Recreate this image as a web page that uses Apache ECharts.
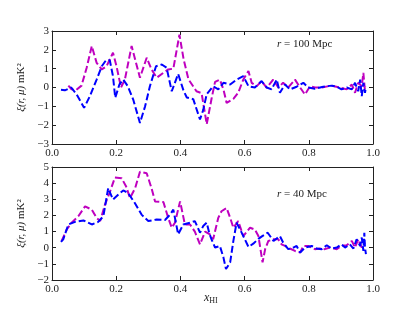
<!DOCTYPE html>
<html><head><meta charset="utf-8">
<script src="https://cdn.jsdelivr.net/npm/echarts@6/dist/echarts.min.js"></script>
<style>html,body{margin:0;padding:0;background:#fff}#c{width:415px;height:312px}</style>
</head><body><div id="c"></div>
<script>
// x ticks
var xTicks = [0.0, 0.2, 0.4, 0.6, 0.8, 1.0];
var topYTicks = [-3, -2, -1, 0, 1, 2, 3];
var botYTicks = [-2, -1, 0, 1, 2, 3, 4, 5];

// Top panel (r = 100 Mpc), blue series
var topBlueX = [0.028,0.04,0.06,0.077,0.10,0.118,0.139,0.155,0.168,0.18,0.19,0.197,0.21,0.222,0.236,0.253,0.274,0.29,0.305,0.324,0.342,0.357,0.373,0.393,0.41,0.42,0.44,0.461,0.471,0.482,0.502,0.518,0.534,0.555,0.575,0.596,0.612,0.632,0.653,0.669,0.684,0.70,0.71,0.726,0.741,0.762,0.783,0.798,0.819,0.845,0.871,0.887,0.902,0.918,0.934,0.944,0.954,0.96,0.965,0.97,0.975,0.978];
var topBlueY = [-0.12,-0.15,0.0,-0.37,-1.08,-0.46,0.42,1.13,1.44,1.45,0.6,-0.55,0.16,0.42,0.07,-0.64,-1.88,-1.0,0.07,1.13,1.22,1.05,-0.2,0.72,-0.18,-0.53,-0.62,-1.7,-1.2,-0.35,0.07,-0.1,0.25,0.16,0.42,0.6,0.07,0.0,0.34,0.0,-0.1,0.42,-0.28,0.16,-0.1,0.04,0.25,0.0,-0.07,0.04,0.1,0.04,-0.1,0.0,-0.1,0.25,-0.2,0.42,-0.46,0.25,-0.28,0.04];
// Top panel, magenta series
var topMagX = [0.051,0.061,0.075,0.092,0.108,0.124,0.139,0.155,0.17,0.19,0.201,0.215,0.227,0.248,0.259,0.274,0.295,0.31,0.326,0.347,0.362,0.378,0.397,0.41,0.425,0.45,0.466,0.482,0.497,0.508,0.523,0.534,0.544,0.565,0.58,0.596,0.612,0.622,0.638,0.653,0.669,0.689,0.705,0.72,0.736,0.757,0.773,0.788,0.804,0.819,0.84,0.871,0.897,0.918,0.934,0.944,0.954,0.965,0.97,0.975];
var topMagY = [0.1,-0.1,-0.14,0.1,1.05,2.2,1.31,0.96,1.13,1.85,1.13,0.0,0.42,2.2,1.49,0.52,1.58,0.96,0.52,0.78,0.96,1.0,2.8,1.5,0.44,-0.2,-0.3,-1.95,-0.6,0.3,0.42,-0.1,-0.82,-0.6,-0.28,0.42,0.88,0.25,0.07,0.34,-0.02,0.42,0.0,0.25,0.0,0.42,0.0,-0.37,0.07,0.0,0.0,0.1,0.0,-0.1,0.16,-0.28,0.25,0.07,0.78,-0.2];

// Bottom panel (r = 40 Mpc), blue series
var botBlueX = [0.028,0.035,0.051,0.072,0.098,0.124,0.144,0.16,0.175,0.19,0.206,0.222,0.237,0.258,0.279,0.30,0.326,0.352,0.368,0.378,0.393,0.409,0.43,0.445,0.461,0.471,0.482,0.49,0.497,0.508,0.523,0.534,0.542,0.555,0.565,0.575,0.586,0.596,0.612,0.627,0.643,0.655,0.672,0.69,0.71,0.72,0.736,0.752,0.762,0.773,0.788,0.809,0.824,0.84,0.856,0.871,0.887,0.902,0.913,0.928,0.939,0.949,0.96,0.965,0.97,0.973,0.975,0.978];
var botBlueY = [0.36,0.52,1.44,1.6,1.69,1.44,1.6,1.95,3.69,2.98,3.28,3.55,3.39,2.77,2.05,1.65,1.75,1.72,2.05,2.36,0.83,1.44,1.55,1.65,0.93,1.34,1.55,0.9,0.52,0.01,0.11,-0.6,-1.32,-0.91,0.42,1.55,1.13,0.72,0.05,0.25,0.55,0.72,0.93,0.42,0.72,0.32,-0.09,0.01,0.11,-0.3,0.01,0.11,-0.05,-0.09,0.15,-0.05,0.01,0.21,0.01,0.21,-0.05,0.52,0.11,0.63,-0.2,0.93,0.01,-0.4];
// Bottom panel, magenta series
var botMagX = [0.03,0.046,0.061,0.082,0.103,0.124,0.139,0.15,0.165,0.181,0.196,0.217,0.231,0.243,0.259,0.274,0.295,0.31,0.321,0.347,0.362,0.373,0.383,0.399,0.414,0.43,0.445,0.461,0.477,0.492,0.502,0.518,0.528,0.544,0.555,0.565,0.58,0.596,0.617,0.632,0.643,0.656,0.664,0.674,0.69,0.705,0.715,0.726,0.741,0.757,0.773,0.783,0.798,0.819,0.835,0.85,0.866,0.887,0.902,0.918,0.934,0.944,0.954,0.965,0.975];
var botMagY = [0.42,1.13,1.55,1.95,2.56,2.36,1.85,1.65,2.67,3.49,4.35,4.3,3.79,3.08,3.69,4.71,4.61,3.69,2.87,2.83,1.85,1.24,1.55,2.87,1.44,1.44,1.0,0.21,1.0,0.83,0.52,1.85,2.26,2.46,1.85,1.24,1.65,0.72,1.24,1.13,0.72,-0.91,-0.09,0.42,0.52,0.52,0.21,0.11,-0.05,-0.2,-0.3,0.11,0.11,-0.09,-0.05,-0.09,0.01,-0.09,0.11,0.15,0.42,0.01,0.52,0.01,0.32];

function pairs(xs, ys){ return xs.map(function(x,i){ return [x, ys[i]]; }); }

var FONT = '"Liberation Serif", "DejaVu Serif", serif';
var AXC = '#222';

function fmtNum(v){ var s = (Math.abs(v) < 1e-9) ? '0' : String(v); return s.replace('-', '\u2212'); }
function fmtX(v){ return v.toFixed(1); }

function xAx(gi, pos, show){
  return {type:'value', gridIndex:gi, position:pos, min:0, max:1, interval:0.2,
    axisLine:{show:true, onZero:false, lineStyle:{color:AXC, width:1}},
    axisTick:{show:true, inside:true, length:4, lineStyle:{color:AXC}},
    axisLabel:{show:show, fontFamily:FONT, fontSize:11, color:'#222', margin:4, formatter:fmtX},
    splitLine:{show:false}};
}
function yAx(gi, pos, mn, mx, show, name){
  var o = {type:'value', gridIndex:gi, position:pos, min:mn, max:mx, interval:1,
    axisLine:{show:true, onZero:false, lineStyle:{color:AXC, width:1}},
    axisTick:{show:true, inside:true, length:4, lineStyle:{color:AXC}},
    axisLabel:{show:show, fontFamily:FONT, fontSize:11, color:'#222', margin:3, formatter:fmtNum},
    splitLine:{show:false}};
  if (name) {
    o.name = '{i|\u03be(r, \u03bc)} mK\u00b2';
    o.nameLocation = 'middle';
    o.nameGap = 24;
    o.nameRotate = 90;
    o.nameTextStyle = {fontFamily:FONT, fontSize:11, color:'#222', rich:{i:{fontFamily:FONT, fontSize:11, fontStyle:'italic', color:'#222'}}};
  }
  return o;
}

function line(xi, yi, data, color){
  return {type:'line', xAxisIndex:xi, yAxisIndex:yi, data:data, showSymbol:false, symbol:'none',
    lineStyle:{color:color, width:2, type:[7,3]}, animation:false};
}

var BLUE = '#0000ff', MAG = '#bf00bf';

var chart = echarts.init(document.getElementById('c'), null, {renderer:'canvas'});
chart.setOption({
  animation:false,
  backgroundColor:'#fff',
  grid:[
    {left:52, width:321, top:31, height:113},
    {left:52, width:321, top:167, height:113}
  ],
  xAxis:[xAx(0,'bottom',true), xAx(0,'top',false), xAx(1,'bottom',true), xAx(1,'top',false)],
  yAxis:[yAx(0,'left',-3,3,true,true), yAx(0,'right',-3,3,false,false), yAx(1,'left',-2,5,true,true), yAx(1,'right',-2,5,false,false)],
  series:[
    line(0,0,pairs(topMagX, topMagY), MAG),
    line(0,0,pairs(topBlueX, topBlueY), BLUE),
    line(2,2,pairs(botMagX, botMagY), MAG),
    line(2,2,pairs(botBlueX, botBlueY), BLUE)
  ],
  graphic:[
    {type:'text', left:277, top:39, style:{text:'{i|r} = 100 Mpc', font:'11px '+FONT, fill:'#222', rich:{i:{fontStyle:'italic', fontFamily:FONT, fontSize:11, fill:'#222'}}}},
    {type:'text', left:277, top:189, style:{text:'{i|r} = 40 Mpc', font:'11px '+FONT, fill:'#222', rich:{i:{fontStyle:'italic', fontFamily:FONT, fontSize:11, fill:'#222'}}}},
    {type:'text', left:204, top:292, style:{text:'{i|x}{s|HI}', rich:{i:{fontStyle:'italic', fontFamily:FONT, fontSize:12, fill:'#222'}, s:{fontFamily:FONT, fontSize:8, fill:'#222', padding:[6,0,0,0]}}}}
  ]
});
</script></body></html>
